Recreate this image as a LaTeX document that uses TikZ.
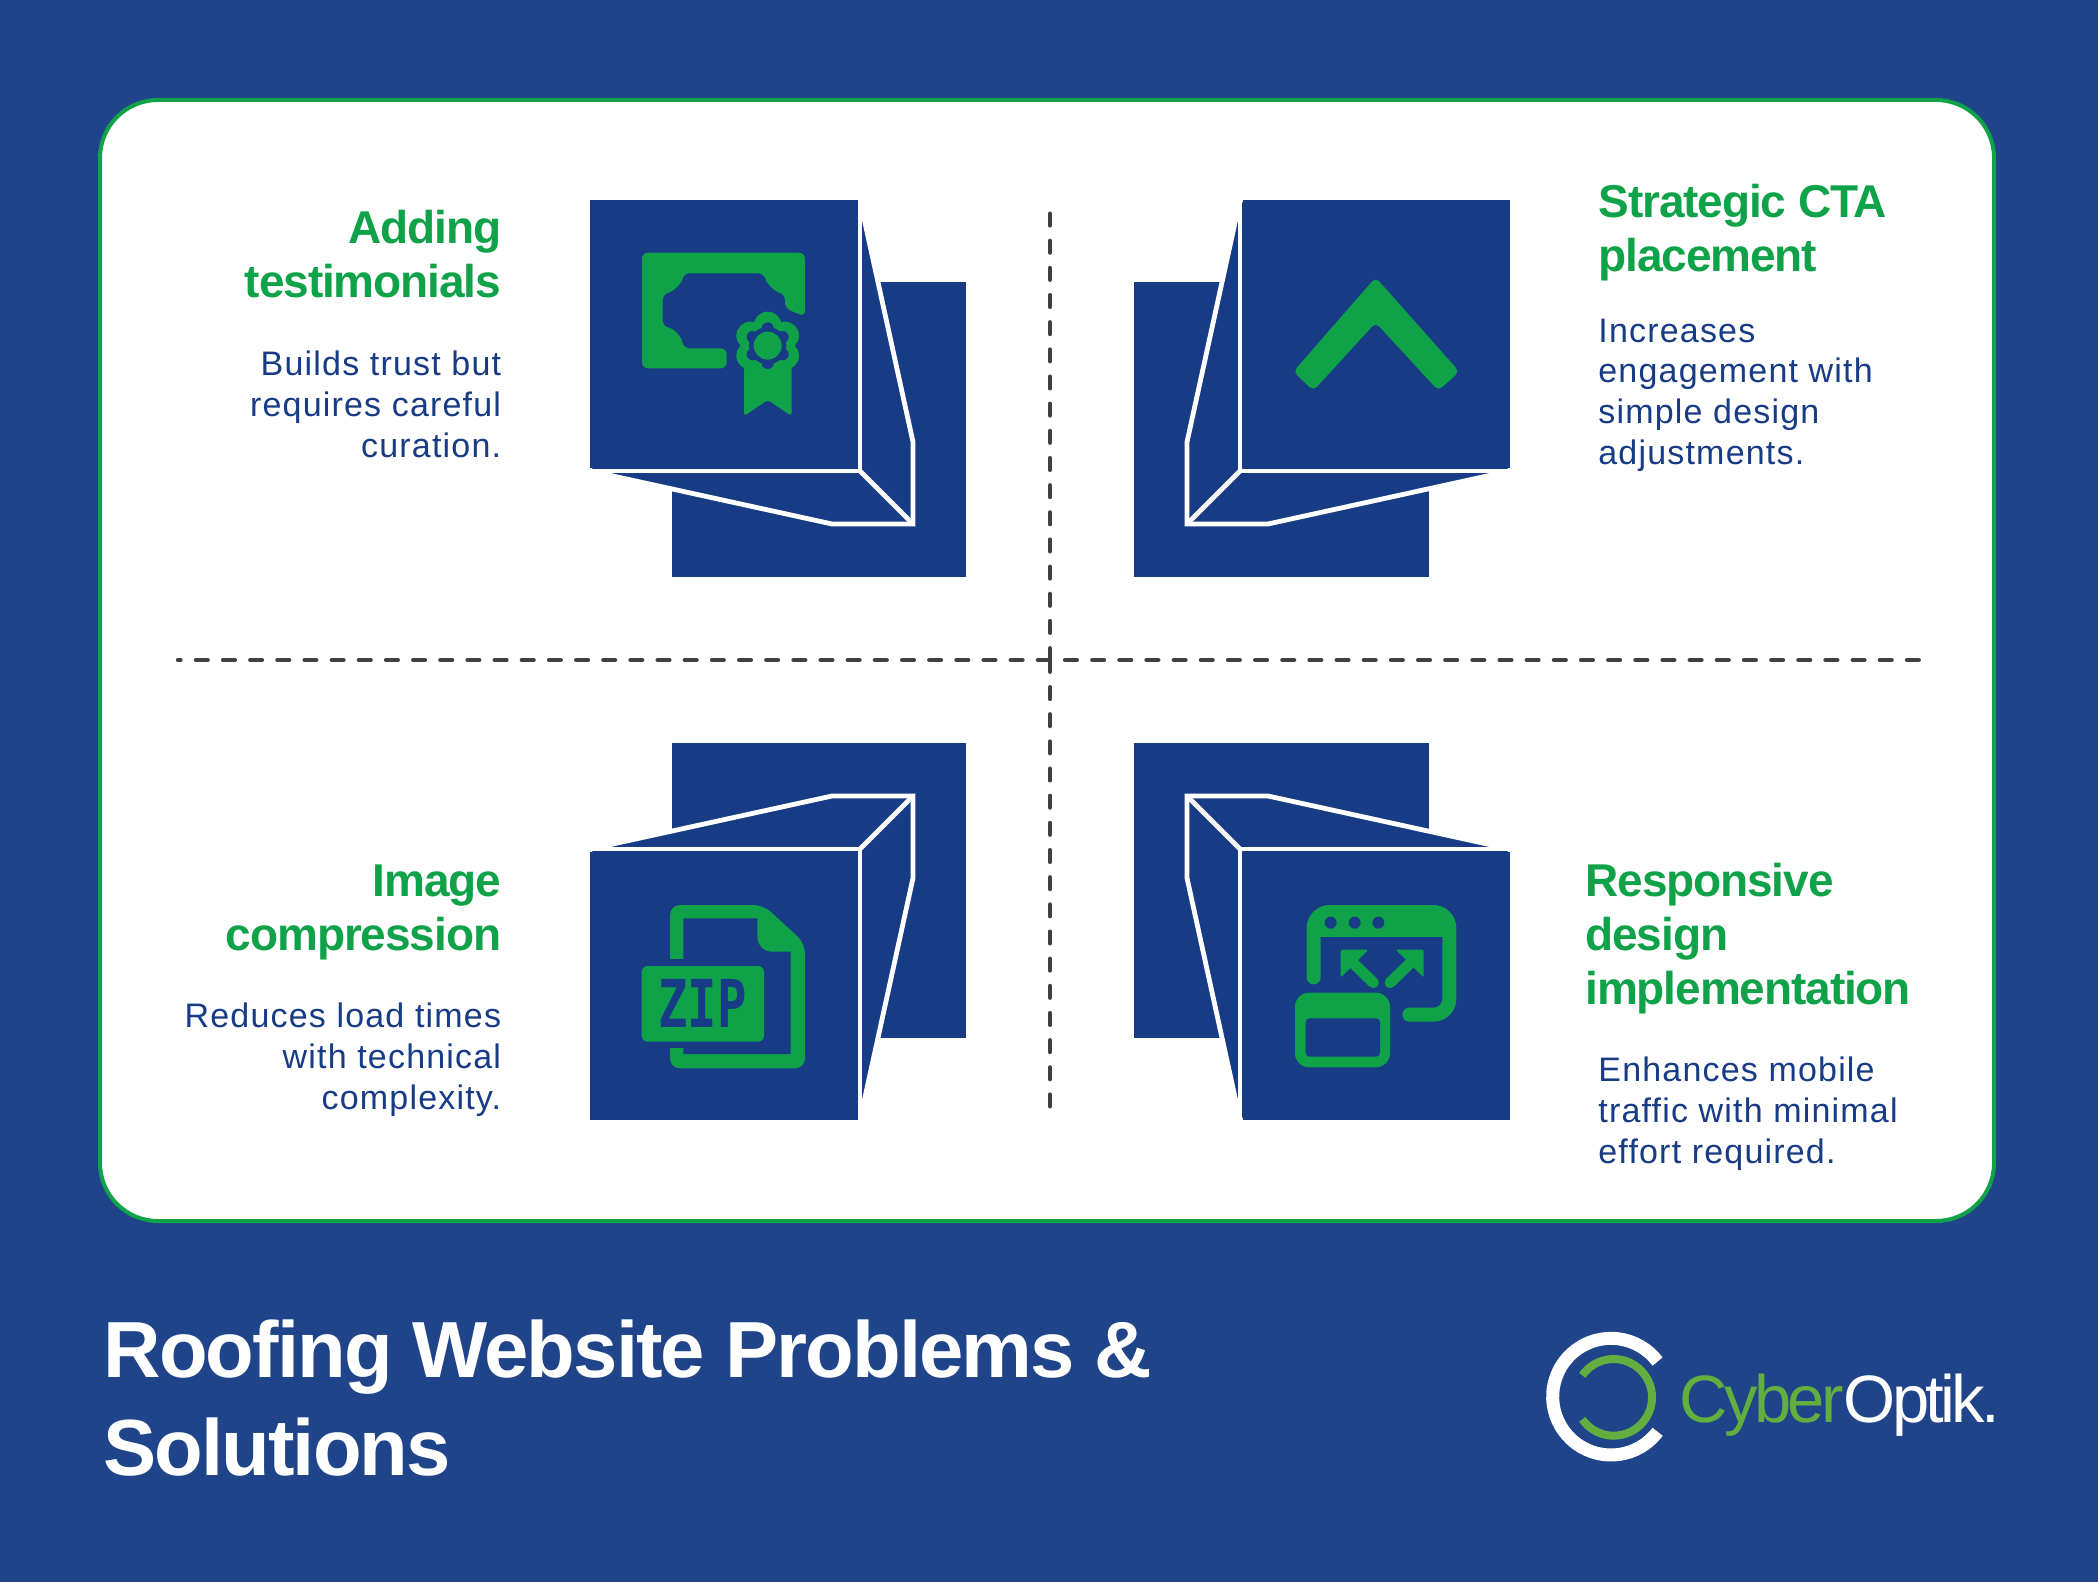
\documentclass[tikz,border=0pt]{standalone}
\usepackage{graphicx}
\usepackage{fontspec}
\setmainfont{Liberation Sans}
\newfontfamily\zipfont{DejaVu Sans Mono}
\newfontfamily\logofont[LetterSpace=-5.5]{Liberation Sans}
\newfontfamily\headfont[LetterSpace=-2.4]{Liberation Sans}
\newfontfamily\cardfont[LetterSpace=3.5]{Liberation Sans}
\definecolor{pageblue}{HTML}{1F4489}
\definecolor{boxblue}{HTML}{173B85}
\definecolor{cardgreen}{HTML}{10A249}
\definecolor{logogreen}{HTML}{62AE3F}
\definecolor{dashgray}{HTML}{404040}
\tikzset{
  heading/.style={inner sep=0pt, text=cardgreen, font=\headfont\bfseries\fontsize{23}{27}\selectfont},
  bodytext/.style={inner sep=0pt, text=boxblue, font=\cardfont\fontsize{17}{20.4}\selectfont},
  divider/.style={draw=dashgray, line width=2.2pt, line cap=round, dash pattern=on 5.85pt off 7.73pt},
  stackedbox/.pic={
    \fill[boxblue] (-378.5,-378) rectangle (-84,-83);
    \fill[boxblue] (-190,-460) -- (-137,-218) -- (-137,-136) -- (-218,-136) -- (-460,-189) -- cycle;
    \draw[white, line width=2.4pt, line join=round] (-190,-460) -- (-190,-189) -- (-460,-189);
    \draw[white, line width=2.4pt, line join=miter] (-190,-460) -- (-137,-218) -- (-137,-136) -- (-218,-136) -- (-460,-189);
    \draw[white, line width=2.4pt] (-190,-189) -- (-137,-136);
    \fill[boxblue] (-460,-459.5) rectangle (-192.5,-192);
  }
}
\begin{document}
\begin{tikzpicture}[x=0.5pt, y=-0.5pt]
  \useasboundingbox (0,0) rectangle (2098,1582);
  \fill[pageblue] (0,0) rectangle (2098,1582);
  \draw[cardgreen, fill=white, line width=2pt, rounded corners=29pt] (100,100) rectangle (1994,1221);

  \coordinate (centre) at (1050,660);
  \coordinate (hleft) at (178,660);
  \coordinate (hright) at (1923,660);
  \coordinate (vtop) at (1050,213.7);
  \coordinate (vbottom) at (1050,1106.3);
  \draw[divider, dash phase=4.6pt] (hleft) -- (hright);
  \draw[divider] (vtop) -- (centre);
  \draw[divider] (vbottom) -- (centre);

  \pic at (centre) {stackedbox};
  \pic[xscale=-1] at (centre) {stackedbox};
  \pic[yscale=-1] at (centre) {stackedbox};
  \pic[xscale=-1, yscale=-1] at (centre) {stackedbox};

  % certificate
  \begin{scope}[shift={(570,180)}, x=0.16667pt, y=-0.16667pt]
    \fill[cardgreen, rounded corners=3pt] (705,410) -- (705,218) -- (216,218) -- (216,565) -- (470,565) -- (470,505) -- (340,505)
      .. controls (335,470) and (310,445) .. (278,440) -- (278,342)
      .. controls (310,335) and (335,310) .. (340,280) -- (582,280)
      .. controls (590,310) and (615,335) .. (645,342) -- (645,385) -- cycle;
    \fill[cardgreen, rounded corners=1.5pt] (522,560) -- (665,560) -- (665,708) -- (593,660) -- (522,708) -- cycle;
    \foreach \a in {30,90,...,330} {
      \fill[cardgreen] (593,497) ++(\a:60) circle[radius=42];
    }
    \fill[cardgreen] (593,497) circle[radius=75];
    \fill[boxblue] (593,497) circle[radius=56];
    \foreach \a in {30,90,...,330} {
      \fill[boxblue] (593,497) ++(\a:52) circle[radius=18];
    }
    \fill[cardgreen] (593,497) circle[radius=42];
  \end{scope}

  % chevron
  \begin{scope}[shift={(1270,260)}, x=0.16667pt, y=-0.16667pt]
    \fill[cardgreen, rounded corners=2.5pt] (317,52) -- (568,335) -- (505,392) -- (317,188) -- (130,392) -- (70,335) -- cycle;
  \end{scope}

  % zip file
  \begin{scope}[shift={(620,880)}, x=0.16667pt, y=-0.16667pt]
    \fill[cardgreen, rounded corners=5pt] (150,75) -- (430,75) -- (555,190) -- (555,565) -- (150,565) -- cycle;
    \fill[boxblue] (190,115) -- (412,115) -- (412,170) .. controls (412,195) and (430,215) .. (455,215) -- (512,215) -- (512,522) -- (190,522) -- cycle;
    \fill[boxblue] (140,238) rectangle (450,505);
    \fill[cardgreen, rounded corners=3pt] (65,258) rectangle (432,485);
    \node[inner sep=0pt, text=boxblue, font=\zipfont\bfseries\fontsize{33}{33}\selectfont] (zip) at (248,370) {\scalebox{0.74}[1]{ZIP}};
  \end{scope}

  % responsive windows
  \begin{scope}[shift={(1270,870)}, x=0.16667pt, y=-0.16667pt]
    \draw[cardgreen, line width=7pt, line cap=round, rounded corners=8pt] (131,322) -- (131,126) -- (538,126) -- (538,434) -- (418,434);
    \fill[cardgreen] (131,126) rectangle (538,200);
    \fill[boxblue] (182,158) circle[radius=18];
    \fill[boxblue] (254,158) circle[radius=18];
    \fill[boxblue] (325,158) circle[radius=18];
    \fill[cardgreen, rounded corners=1pt] (212,239) -- (295,239) -- (212,323) -- cycle;
    \fill[cardgreen, rounded corners=1pt] (461,239) -- (377,239) -- (461,323) -- cycle;
    \draw[cardgreen, line width=5.5pt, line cap=round] (250,280) -- (310,338);
    \draw[cardgreen, line width=5.5pt, line cap=round] (420,280) -- (360,338);
    \fill[cardgreen, rounded corners=7pt] (75,368) rectangle (360,592);
    \fill[boxblue, rounded corners=2pt] (107,445) rectangle (330,560);
  \end{scope}

  \node[heading, anchor=base east, align=right] (testimonials) at (501.5,298) {Adding\\testimonials};
  \node[bodytext, anchor=base east, align=right] (trust) at (501.5,457.5) {Builds trust but\\requires careful\\curation.};
  \node[heading, anchor=base west, align=left] (cta) at (1598,272) {Strategic CTA\\placement};
  \node[bodytext, anchor=base west, align=left] (engagement) at (1598,464.5) {Increases\\engagement with\\simple design\\adjustments.};
  \node[heading, anchor=base east, align=right] (compression) at (501.5,950) {Image\\compression};
  \node[bodytext, anchor=base east, align=right] (loadtimes) at (501.5,1109.5) {Reduces load times\\with technical\\complexity.};
  \node[heading, anchor=base west, align=left] (responsive) at (1585,1004) {Responsive\\design\\implementation};
  \node[bodytext, anchor=base west, align=left] (mobile) at (1598,1163.5) {Enhances mobile\\traffic with minimal\\effort required.};

  \node[inner sep=0pt, anchor=base west, align=left, text=white, font=\headfont\bfseries\fontsize{39.8}{49}\selectfont] (title) at (103,1475) {Roofing Website Problems \&\\Solutions};

  % logo
  \begin{scope}[shift={(1520,1300)}, x=0.16667pt, y=-0.16667pt]
    \draw[white, line width=6.5pt] (273,290) ++(37:175) arc[start angle=37, end angle=323, radius=175];
    \draw[logogreen, line width=4pt] (281,292) ++(145:115) arc[start angle=145, end angle=-145, radius=115];
    \node[inner sep=0pt, anchor=base west, font=\logofont\fontsize{33.5}{33.5}\selectfont] (logo) at (478,367) {\textcolor{logogreen}{Cyber}\textcolor{white}{Optik.}};
  \end{scope}
\end{tikzpicture}
\end{document}
